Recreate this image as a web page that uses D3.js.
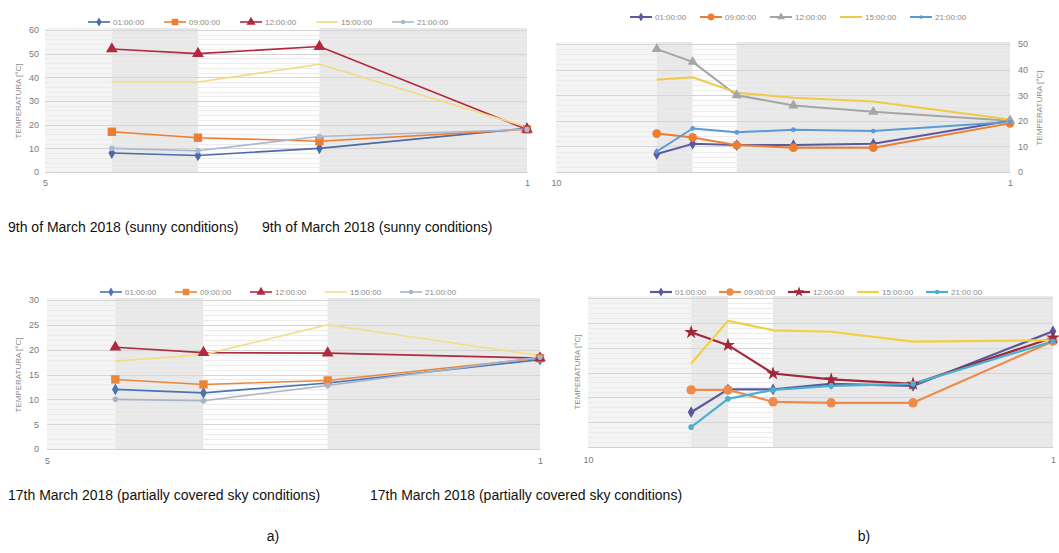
<!DOCTYPE html>
<html><head><meta charset="utf-8">
<script src="https://cdn.jsdelivr.net/npm/d3@7"></script>
<style>
body{margin:0;background:#fff}
text{font-family:"Liberation Sans",Arial,sans-serif}
</style>
</head><body>
<svg id="fig" width="1059" height="553"></svg>
<script>
// Series labels (hour of measurement)
const hours = ["01:00:00", "09:00:00", "12:00:00", "15:00:00", "21:00:00"];

// Measurement positions along the x axis (log scale, reversed)
const posShort = [4, 3, 2, 1];
const posLong = [6, 5, 4, 3, 2, 1];
const ticksShort = [5, 1];
const ticksLong = [10, 1];

// Zone boundaries shaded behind the lines
const zonesShort = [5, 4, 3, 2, 1];
const zonesLong = [10, 6, 5, 4, 1];

// 9th of March 2018, set a) [°C]
const sunA_01 = [8, 7, 10, 18.5];
const sunA_09 = [17, 14.5, 13, 18];
const sunA_12 = [52, 50, 53, 18];
const sunA_15 = [38, 38, 45.5, 19];
const sunA_21 = [10, 9, 15, 18];

// 9th of March 2018, set b) [°C]
const sunB_01 = [7, 11, 10.5, 10.5, 11, 20];
const sunB_09 = [15, 13.5, 10.5, 9.5, 9.5, 19];
const sunB_12 = [48, 43, 30, 26, 23.5, 20];
const sunB_15 = [36, 37, 31, 29, 27.5, 20.5];
const sunB_21 = [8, 17, 15.5, 16.5, 16, 19.5];

// 17th March 2018, set a) [°C]
const cldA_01 = [12, 11.3, 13.3, 18];
const cldA_09 = [14, 13, 13.8, 18.3];
const cldA_12 = [20.5, 19.4, 19.3, 18.3];
const cldA_15 = [17.7, 19, 25, 18.8];
const cldA_21 = [10, 9.7, 12.8, 18.5];

// 17th March 2018, set b) [°C]
const cldB_01 = [7, 11.6, 11.6, 12.7, 12.3, 23.3];
const cldB_09 = [11.5, 11.5, 9.1, 8.9, 8.9, 21.3];
const cldB_12 = [23.1, 20.5, 14.8, 13.6, 12.7, 22];
const cldB_15 = [16.8, 25.4, 23.5, 23.2, 21.2, 21.5];
const cldB_21 = [4, 9.7, 11.5, 12.3, 12.7, 21.3];

// Captions
const captions = [
  "9th of March 2018 (sunny conditions)",
  "9th of March 2018 (sunny conditions)",
  "17th March 2018 (partially covered sky conditions)",
  "17th March 2018 (partially covered sky conditions)"
];
const partLabels = ["a)", "b)"];
const yTitle = "TEMPERATURA [°C]";

const svg = d3.select("#fig");
const zoneFill = ["#f4f4f4", "#e8e8e8", "#fdfdfd", "#e8e8e8"];

function drawPanel(p) {
  const g = svg.append("g");
  const x = d3.scaleLog().domain(p.xDomain).range([p.left, p.right]);
  const y = d3.scaleLinear().domain(p.yDomain).range([p.bottom, p.top]);

  // shaded zones
  for (let i = 0; i < p.zones.length - 1; i++) {
    g.append("rect")
      .attr("x", x(p.zones[i]))
      .attr("width", x(p.zones[i + 1]) - x(p.zones[i]))
      .attr("y", p.top - 2)
      .attr("height", p.bottom - p.top + 2)
      .attr("fill", zoneFill[i]);
  }

  // horizontal grid
  const grid = d3.range(p.yDomain[0], p.yDomain[1] + 1e-6, p.gridStep);
  g.selectAll(".grid").data(grid).join("line")
    .attr("x1", p.left).attr("x2", p.right)
    .attr("y1", d => Math.round(y(d)) + 0.5).attr("y2", d => Math.round(y(d)) + 0.5)
    .attr("stroke", d => (d % p.majorStep === 0) ? "#d6d6d6" : "#ececec")
    .attr("stroke-width", 1);

  // x axis
  const xa = g.append("g").attr("transform", `translate(0,${p.bottom})`)
    .call(d3.axisBottom(x).tickValues(p.xTicks).tickFormat(d3.format("d")).tickSize(0).tickPadding(p.xPad));
  xa.select(".domain").attr("stroke", "#d0d0d0");
  xa.selectAll("text").attr("fill", "#7a7a7a").attr("font-size", 9);

  // y axis
  if (p.yTicks) {
    const ax = p.ySide === "right" ? d3.axisRight(y) : d3.axisLeft(y);
    const ya = g.append("g").attr("transform", `translate(${p.ySide === "right" ? p.right : p.left},0)`)
      .call(ax.tickValues(p.yTicks).tickSize(0).tickPadding(p.yPad));
    ya.select(".domain").attr("stroke", "none");
    ya.selectAll("text").attr("fill", "#7a7a7a").attr("font-size", 9);
  }

  // axis title
  g.append("text")
    .attr("transform", `translate(${p.titleX},${p.titleY}) rotate(-90)`)
    .attr("text-anchor", "middle")
    .attr("fill", "#8a8a8a")
    .attr("font-size", 8)
    .text(yTitle);

  // series
  const line = d3.line().x((d, i) => x(p.pos[i])).y(d => y(d));
  p.series.forEach((s, k) => {
    g.append("path").attr("d", line(s))
      .attr("fill", "none").attr("stroke", p.colors[k])
      .attr("stroke-width", p.lw).attr("stroke-linejoin", "round");
  });
  p.series.forEach((s, k) => {
    if (!p.symbols[k]) return;
    g.selectAll(null).data(s).join("path")
      .attr("transform", (d, i) => `translate(${x(p.pos[i])},${y(d)})`)
      .attr("d", d3.symbol().type(p.symbols[k]).size(p.sizes[k]))
      .attr("fill", p.colors[k]);
  });

  // legend
  const lg = g.append("g").attr("transform", `translate(${p.legX},${p.legY})`);
  hours.forEach((h, k) => {
    const it = lg.append("g").attr("transform", `translate(${k * p.legStep},0)`);
    it.append("line").attr("x1", 0).attr("x2", 22).attr("y1", 0).attr("y2", 0)
      .attr("stroke", p.colors[k]).attr("stroke-width", p.lw);
    if (p.symbols[k]) {
      it.append("path").attr("transform", "translate(11,0)")
        .attr("d", d3.symbol().type(p.symbols[k]).size(p.sizes[k] * 0.6))
        .attr("fill", p.colors[k]);
    }
    it.append("text").attr("x", 25).attr("y", 3).attr("font-size", 8)
      .attr("fill", "#8a8a8a").text(h);
  });
}

// 9 March – a)
drawPanel({
  left: 45, right: 527, top: 30, bottom: 172,
  xDomain: [5, 1], xTicks: ticksShort, pos: posShort, zones: zonesShort, xPad: 8,
  yDomain: [0, 60], yTicks: [0, 10, 20, 30, 40, 50, 60], gridStep: 2, majorStep: 10, ySide: "left", yPad: 6,
  titleX: 21, titleY: 101,
  series: [sunA_01, sunA_09, sunA_12, sunA_15, sunA_21],
  colors: ["#4a6aa8", "#ed7d31", "#b3283f", "#f3da84", "#a9b9d0"],
  symbols: [d3.symbolDiamond, d3.symbolSquare, d3.symbolTriangle, null, d3.symbolCircle],
  sizes: [40, 70, 60, 0, 25], lw: 1.6,
  legX: 88, legY: 22, legStep: 76
});

// 9 March – b)
drawPanel({
  left: 556, right: 1010, top: 44, bottom: 172,
  xDomain: [10, 1], xTicks: ticksLong, pos: posLong, zones: zonesLong, xPad: 8,
  yDomain: [0, 50], yTicks: [0, 10, 20, 30, 40, 50], gridStep: 2, majorStep: 10, ySide: "right", yPad: 8,
  titleX: 1042, titleY: 108,
  series: [sunB_01, sunB_09, sunB_12, sunB_15, sunB_21],
  colors: ["#5a5aa2", "#ed7d31", "#a5a5a5", "#f0c948", "#5b9bd5"],
  symbols: [d3.symbolDiamond, d3.symbolCircle, d3.symbolTriangle, null, d3.symbolCircle],
  sizes: [40, 60, 45, 0, 18], lw: 2,
  legX: 630, legY: 17, legStep: 70
});

// 17 March – a)
drawPanel({
  left: 47, right: 540, top: 300, bottom: 449,
  xDomain: [5, 1], xTicks: ticksShort, pos: posShort, zones: zonesShort, xPad: 9,
  yDomain: [0, 30], yTicks: [0, 5, 10, 15, 20, 25, 30], gridStep: 1, majorStep: 5, ySide: "left", yPad: 8,
  titleX: 21, titleY: 375,
  series: [cldA_01, cldA_09, cldA_12, cldA_15, cldA_21],
  colors: ["#4a74b8", "#e8873a", "#b02a40", "#f5dc86", "#a8b4c6"],
  symbols: [d3.symbolDiamond, d3.symbolSquare, d3.symbolTriangle, null, d3.symbolCircle],
  sizes: [40, 70, 60, 0, 25], lw: 1.6,
  legX: 100, legY: 292, legStep: 75
});

// 17 March – b)
drawPanel({
  left: 588, right: 1053, top: 298, bottom: 447,
  xDomain: [10, 1], xTicks: ticksLong, pos: posLong, zones: zonesLong, xPad: 10,
  yDomain: [0, 30], yTicks: null, gridStep: 1, majorStep: 5, ySide: "left", yPad: 6,
  titleX: 580, titleY: 372,
  series: [cldB_01, cldB_09, cldB_12, cldB_15, cldB_21],
  colors: ["#58589a", "#ed8b4a", "#a02838", "#f2d040", "#4bb0d0"],
  symbols: [d3.symbolDiamond, d3.symbolCircle, d3.symbolStar, null, d3.symbolCircle],
  sizes: [40, 70, 60, 0, 25], lw: 2.2,
  legX: 650, legY: 292, legStep: 69
});

// captions
const capPos = [[8, 232], [262, 232], [8, 500], [370, 500]];
captions.forEach((c, i) => {
  svg.append("text").attr("x", capPos[i][0]).attr("y", capPos[i][1])
    .attr("font-size", 14).attr("fill", "#111").text(c);
});
const partPos = [[273, 541], [864, 541]];
partLabels.forEach((t, i) => {
  svg.append("text").attr("x", partPos[i][0]).attr("y", partPos[i][1])
    .attr("text-anchor", "middle").attr("font-size", 14).attr("fill", "#111").text(t);
});
</script>
</body></html>
